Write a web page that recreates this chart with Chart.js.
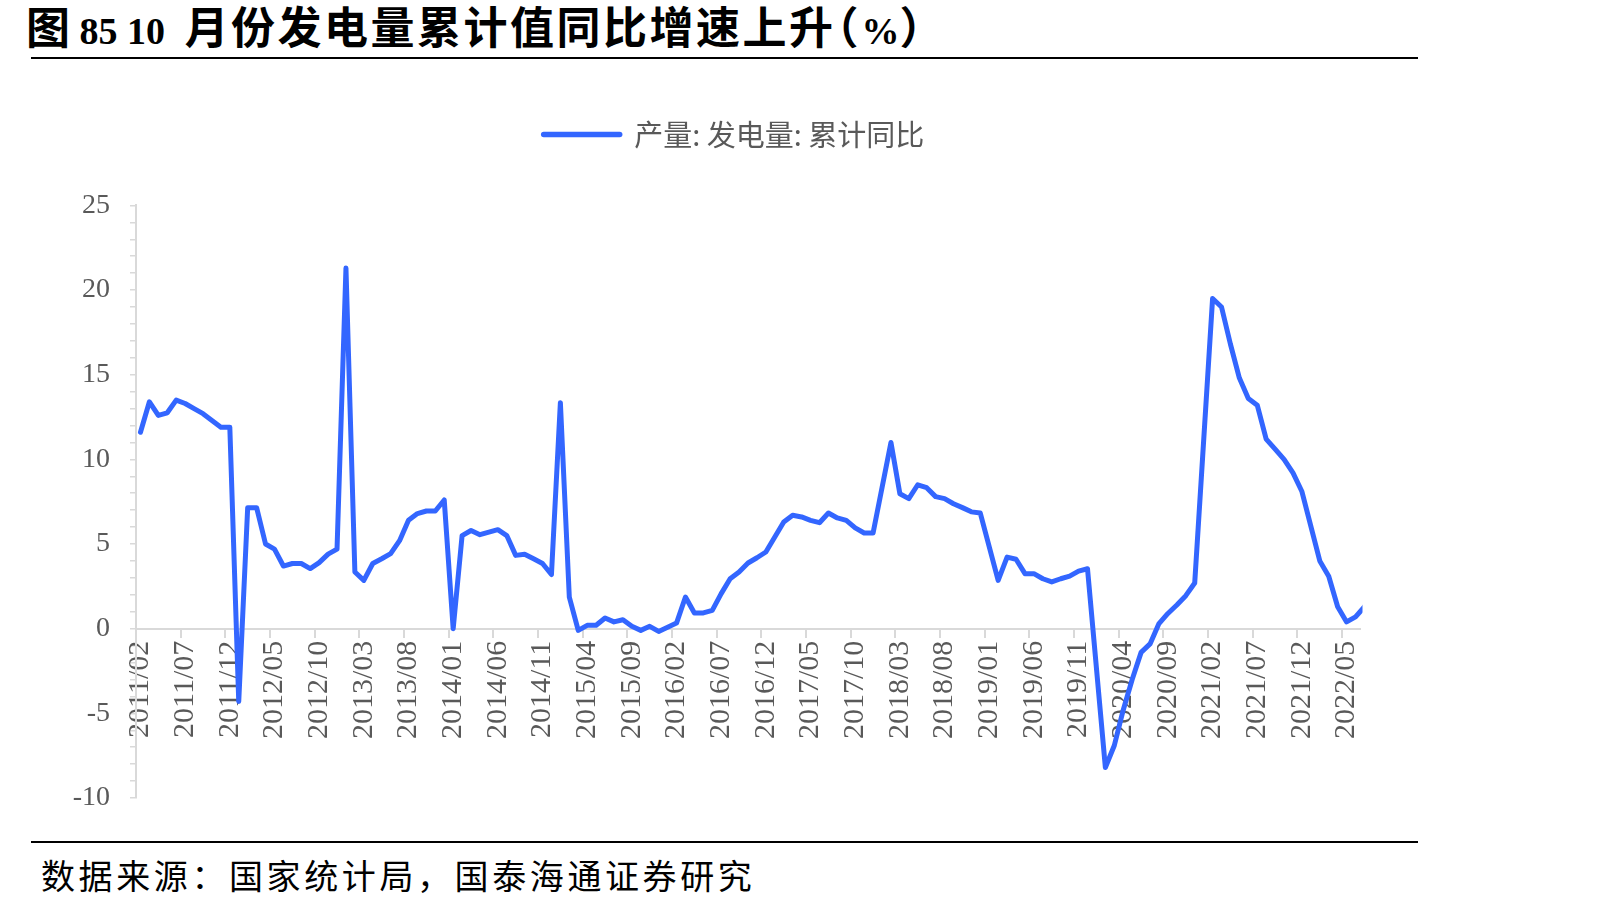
<!DOCTYPE html>
<html>
<head>
<meta charset="utf-8">
<script src="https://cdn.jsdelivr.net/npm/chart.js@4.4.1/dist/chart.umd.min.js"></script>
<style>
  html, body { margin: 0; padding: 0; background: #ffffff; }
  body { width: 1602px; height: 909px; position: relative; overflow: hidden; }
  #title { position: absolute; left: 26px; top: 3px; line-height: 44px; font-weight: 700; white-space: pre; color: #000; }
  #title .cn { font-family: "Noto Sans CJK SC", sans-serif; font-size: 44px; }
  #title .en { font-family: "Liberation Serif", serif; font-size: 38px; }
  #title .run { letter-spacing: 2.5px; margin-left: 10px; }
  #title .lp { margin-left: -21px; }
  #title .pc { margin-left: 3px; }
  .rule { position: absolute; left: 31px; width: 1387px; height: 2px; background: #000; }
  #wrap { position: absolute; left: 30px; top: 70px; width: 1400px; height: 750px; }
  #source { position: absolute; left: 41px; top: 858px; font-size: 34px; line-height: 34px; letter-spacing: 3.6px;
            font-family: "Noto Sans CJK SC", sans-serif; color: #000; white-space: pre; }
</style>
</head>
<body>
<div id="title"><span class="cn">图</span><span class="en"> 85 10 </span><span class="cn run">月份发电量累计值同比增速上升</span><span class="cn lp">（</span><span class="en pc">%</span><span class="cn">）</span></div>
<div class="rule" style="top:57px"></div>
<div id="wrap"><canvas id="c"></canvas></div>
<div class="rule" style="top:841px"></div>
<div id="source">数据来源：国家统计局，国泰海通证券研究</div>
<script>
// ---- data ----
const months = [
  '2011/02','2011/03','2011/04','2011/05','2011/06','2011/07','2011/08','2011/09','2011/10','2011/11','2011/12',
  '2012/01','2012/02','2012/03','2012/04','2012/05','2012/06','2012/07','2012/08','2012/09','2012/10','2012/11','2012/12',
  '2013/01','2013/02','2013/03','2013/04','2013/05','2013/06','2013/07','2013/08','2013/09','2013/10','2013/11','2013/12',
  '2014/01','2014/02','2014/03','2014/04','2014/05','2014/06','2014/07','2014/08','2014/09','2014/10','2014/11','2014/12',
  '2015/01','2015/02','2015/03','2015/04','2015/05','2015/06','2015/07','2015/08','2015/09','2015/10','2015/11','2015/12',
  '2016/01','2016/02','2016/03','2016/04','2016/05','2016/06','2016/07','2016/08','2016/09','2016/10','2016/11','2016/12',
  '2017/01','2017/02','2017/03','2017/04','2017/05','2017/06','2017/07','2017/08','2017/09','2017/10','2017/11','2017/12',
  '2018/01','2018/02','2018/03','2018/04','2018/05','2018/06','2018/07','2018/08','2018/09','2018/10','2018/11','2018/12',
  '2019/01','2019/02','2019/03','2019/04','2019/05','2019/06','2019/07','2019/08','2019/09','2019/10','2019/11','2019/12',
  '2020/01','2020/02','2020/03','2020/04','2020/05','2020/06','2020/07','2020/08','2020/09','2020/10','2020/11','2020/12',
  '2021/01','2021/02','2021/03','2021/04','2021/05','2021/06','2021/07','2021/08','2021/09','2021/10','2021/11','2021/12',
  '2022/01','2022/02','2022/03','2022/04','2022/05','2022/06','2022/07'
];

// 产量: 发电量: 累计同比 (%), null = no January figure published
const genYoY = [
  11.6, 13.4, 12.6, 12.75, 13.5, 13.3, 13.0, 12.7, 12.3, 11.9, 11.9,
  -4.3, 7.15, 7.15, 5.0, 4.7, 3.7, 3.85, 3.85, 3.55, 3.9, 4.4, 4.7,
  21.3, 3.35, 2.85, 3.85, 4.13, 4.43, 5.2, 6.4, 6.8, 6.95, 6.95, 7.6,
  0.0, 5.5, 5.8, 5.55, 5.7, 5.85, 5.5, 4.33, 4.4, 4.13, 3.85, 3.2,
  13.35, 1.87, -0.1, 0.2, 0.2, 0.63, 0.4, 0.53, 0.14, -0.1, 0.14, -0.16,
  null, 0.33, 1.87, 0.93, 0.93, 1.08, 2.07, 2.95, 3.35, 3.88, 4.19, 4.53,
  null, 6.3, 6.7, 6.6, 6.4, 6.26, 6.83, 6.54, 6.4, 5.95, 5.65, 5.65,
  null, 11.0, 7.97, 7.68, 8.5, 8.33, 7.8, 7.68, 7.38, 7.15, 6.9, 6.83,
  null, 2.85, 4.23, 4.1, 3.25, 3.25, 2.95, 2.76, 2.95, 3.1, 3.4, 3.54,
  null, -8.2, -6.9, -4.8, -3.0, -1.4, -0.9, 0.3, 0.9, 1.4, 1.95, 2.7,
  null, 19.5, 19.0, 16.8, 14.8, 13.6, 13.2, 11.2, 10.6, 10.0, 9.2, 8.1,
  null, 4.0, 3.1, 1.3, 0.4, 0.7, 1.3
];

const seriesName = '产量: 发电量: 累计同比';
const yMin = -10, yMax = 25, yLabelStep = 5, yMinorStep = 1;
const xLabelEvery = 5;
const lastMonthOnAxis = '2022/06';

const BLUE = '#3366FF';
const GRAY_TEXT = '#595959';
const AXIS_GRAY = '#d9d9d9';

// layout targets (canvas pixels)
const PLOT_TOP = 135.4;
const LEGEND_TOP = 40;
const LEGEND_DX = 19;

const legendPlacer = {
  id: 'legendPlacer',
  afterLayout(chart) {
    const lg = chart.legend;
    if (!lg) return;
    const dy = LEGEND_TOP - lg.top;
    lg.top += dy; lg.bottom += dy;
    lg.left += LEGEND_DX; lg.right += LEGEND_DX;
  }
};

function draw() {
  const ctx = document.getElementById('c').getContext('2d');
  new Chart(ctx, {
    type: 'line',
    data: {
      labels: months,
      datasets: [{
        label: seriesName,
        data: genYoY,
        borderColor: BLUE,
        backgroundColor: BLUE,
        borderWidth: 5,
        pointRadius: 0,
        pointHoverRadius: 0,
        tension: 0,
        spanGaps: true,
        borderJoinStyle: 'round',
        borderCapStyle: 'round',
        fill: false
      }]
    },
    plugins: [legendPlacer],
    options: {
      responsive: true,
      maintainAspectRatio: false,
      animation: false,
      devicePixelRatio: 1,
      events: [],
      layout: { padding: { left: 40, right: 70, top: 0, bottom: 22 } },
      plugins: {
        tooltip: { enabled: false },
        legend: {
          position: 'top',
          align: 'center',
          labels: {
            usePointStyle: true,
            pointStyleWidth: 76,
            padding: 10,
            color: GRAY_TEXT,
            font: { family: '"Noto Sans CJK SC"', size: 29 },
            generateLabels: (chart) => [{
              text: seriesName,
              fillStyle: BLUE,
              strokeStyle: BLUE,
              lineWidth: 5.5,
              lineCap: 'round',
              pointStyle: 'line',
              hidden: false,
              fontColor: GRAY_TEXT,
              datasetIndex: 0
            }]
          }
        }
      },
      scales: {
        x: {
          type: 'category',
          position: { y: 0 },
          offset: true,
          afterDataLimits: (s) => { s.max = months.indexOf(lastMonthOnAxis); },
          grid: {
            offset: true,
            drawOnChartArea: false,
            drawTicks: true,
            tickLength: 8,
            lineWidth: 2,
            tickWidth: 2,
            color: (c) => (c.index !== undefined && c.index % xLabelEvery === 0) ? AXIS_GRAY : 'rgba(0,0,0,0)'
          },
          border: { display: true, color: AXIS_GRAY, width: 2 },
          ticks: {
            autoSkip: false,
            minRotation: 90,
            maxRotation: 90,
            padding: 4,
            color: GRAY_TEXT,
            font: { family: '"Liberation Serif"', size: 30 },
            callback: (v, i) => (i % xLabelEvery === 0) ? months[v] : ''
          }
        },
        y: {
          min: yMin,
          max: yMax,
          afterFit: (s) => { s.width = 66; s.paddingTop = PLOT_TOP; s.paddingBottom = 0; },
          grid: {
            drawOnChartArea: false,
            drawTicks: true,
            tickLength: 6,
            lineWidth: 1.5,
            color: AXIS_GRAY
          },
          border: { display: true, color: AXIS_GRAY, width: 2 },
          ticks: {
            stepSize: yMinorStep,
            autoSkip: false,
            padding: 20,
            color: GRAY_TEXT,
            font: { family: '"Liberation Serif"', size: 28 },
            callback: (v) => (v % yLabelStep === 0) ? String(v) : ''
          }
        }
      }
    }
  });
}

Promise.all([
  document.fonts.load('28px "Liberation Serif"'),
  document.fonts.load('bold 38px "Liberation Serif"'),
  document.fonts.load('29px "Noto Sans CJK SC"', '产量发电累计同比'),
  document.fonts.load('bold 44px "Noto Sans CJK SC"', '图月份')
]).then(draw, draw);
</script>
</body>
</html>
